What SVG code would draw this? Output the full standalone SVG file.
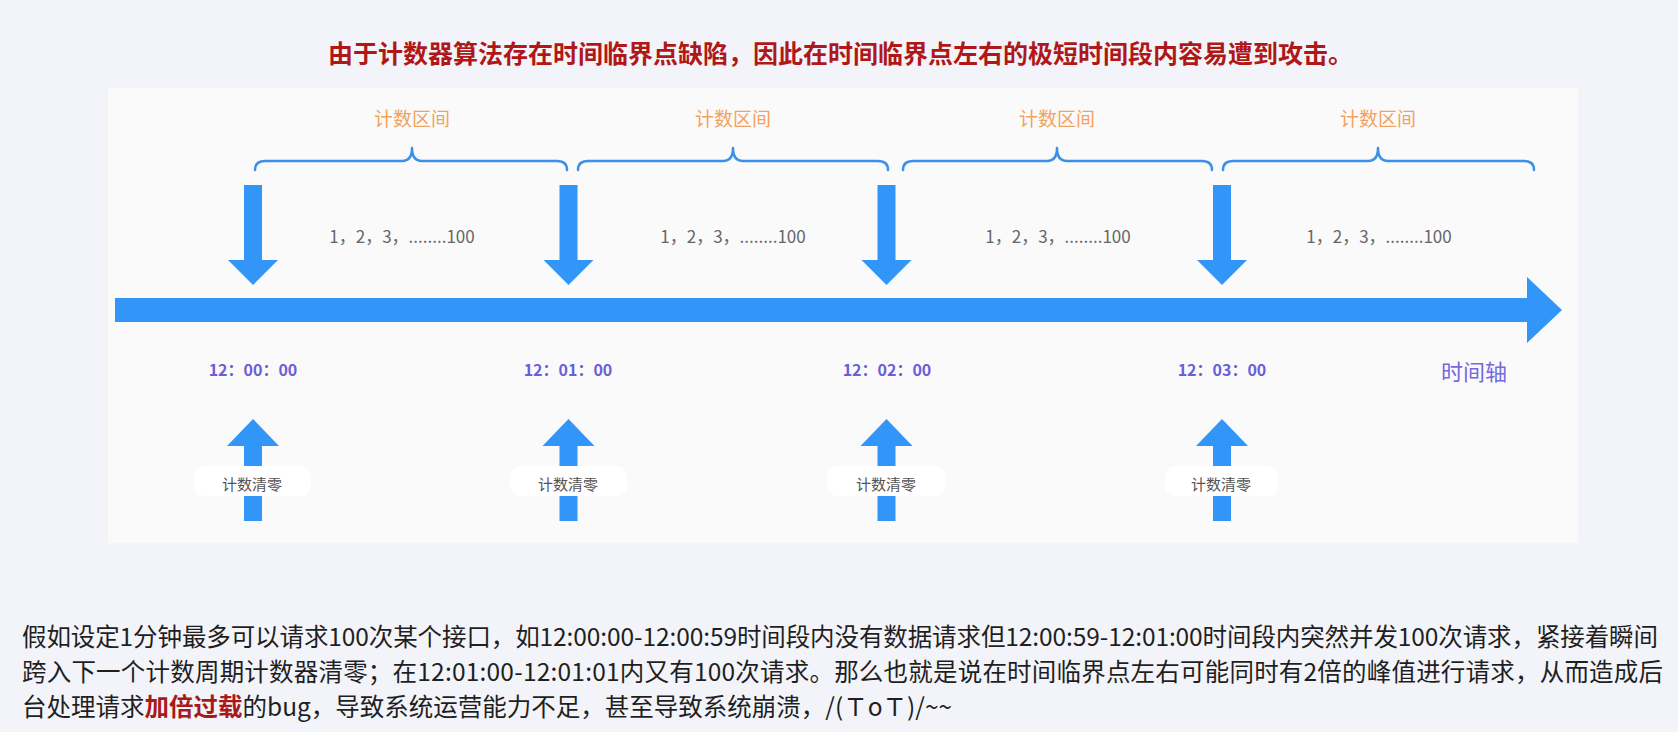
<svg xmlns="http://www.w3.org/2000/svg" xmlns:xlink="http://www.w3.org/1999/xlink" width="1678" height="732" viewBox="0 0 1678 732">
<style>
.cjk{font-family:"Noto Sans CJK SC","Noto Sans",sans-serif}
.title{font-size:25px;font-weight:700;fill:#b01818}
.body{font-size:24.5px;fill:#1f1f1f}
.em{font-weight:700;fill:#a8191b}
.range{font-size:19px;fill:#f3a25c;text-anchor:middle}
.count{font-size:17px;fill:#666;text-anchor:middle}
.time{font-size:16px;font-weight:600;fill:#6a5fd6;text-anchor:middle}
.axis{font-size:22px;fill:#7568e0;text-anchor:middle}
.reset{font-size:15px;fill:#555;text-anchor:middle}
.arrow{fill:#3196f8}
.brace{fill:none;stroke:#3d90e8;stroke-width:2.5;stroke-linecap:round;stroke-linejoin:round}
.box{fill:#ffffff}
</style>
<defs>
<path id="down" d="M-9,185 H9 V260 H25 L0,285 L-25,260 H-9 Z"/>
<path id="up" d="M0,419 L26,446 H9 V521 H-9 V446 H-26 Z"/>
</defs>
<rect width="1678" height="732" fill="#f3f4f9"/>
<g id="title"><text class="cjk title" x="328" y="62.5" textLength="1025" lengthAdjust="spacing">由于计数器算法存在时间临界点缺陷，因此在时间临界点左右的极短时间段内容易遭到攻击。</text></g>
<g id="panel"><rect x="108" y="88" width="1470" height="455" fill="#fafafb"/></g>
<g id="timeline">
<path class="arrow" d="M115,298 H1527 V277 L1562,310 L1527,343 V322 H115 Z"/>
<text class="cjk axis" x="1474" y="380">时间轴</text>
</g>
<g id="intervals">
<g id="interval-1">
<path class="brace" d="M255,170 Q255,161 265,161 L402,161 Q412,161 412,148 Q412,161 422,161 L557,161 Q567,161 567,170"/>
<text class="cjk range" x="412" y="126">计数区间</text>
<text class="cjk count" x="402" y="243">1，2，3，........100</text>
</g>
<g id="interval-2">
<path class="brace" d="M578,170 Q578,161 588,161 L723,161 Q733,161 733,148 Q733,161 743,161 L878,161 Q888,161 888,170"/>
<text class="cjk range" x="733" y="126">计数区间</text>
<text class="cjk count" x="733" y="243">1，2，3，........100</text>
</g>
<g id="interval-3">
<path class="brace" d="M903,170 Q903,161 913,161 L1047,161 Q1057,161 1057,148 Q1057,161 1067,161 L1202,161 Q1212,161 1212,170"/>
<text class="cjk range" x="1057" y="126">计数区间</text>
<text class="cjk count" x="1058" y="243">1，2，3，........100</text>
</g>
<g id="interval-4">
<path class="brace" d="M1223,170 Q1223,161 1233,161 L1368,161 Q1378,161 1378,148 Q1378,161 1388,161 L1524,161 Q1534,161 1534,170"/>
<text class="cjk range" x="1378" y="126">计数区间</text>
<text class="cjk count" x="1379" y="243">1，2，3，........100</text>
</g>
</g>
<g id="connectors">
<use href="#down" class="arrow" transform="translate(253,0)"/>
<use href="#down" class="arrow" transform="translate(568.5,0)"/>
<use href="#down" class="arrow" transform="translate(886.5,0)"/>
<use href="#down" class="arrow" transform="translate(1222,0)"/>
<use href="#up" class="arrow" transform="translate(253,0)"/>
<use href="#up" class="arrow" transform="translate(568.5,0)"/>
<use href="#up" class="arrow" transform="translate(886.5,0)"/>
<use href="#up" class="arrow" transform="translate(1222,0)"/>
</g>
<g id="tick-1">
<text class="cjk time" x="253" y="376">12：00：00</text>
<rect class="box" x="194" y="466" width="117" height="30" rx="10"/>
<text class="cjk reset" x="252" y="489.5">计数清零</text>
</g>
<g id="tick-2">
<text class="cjk time" x="568" y="376">12：01：00</text>
<rect class="box" x="510" y="466" width="117" height="30" rx="10"/>
<text class="cjk reset" x="568" y="489.5">计数清零</text>
</g>
<g id="tick-3">
<text class="cjk time" x="887" y="376">12：02：00</text>
<rect class="box" x="827" y="466" width="118" height="30" rx="10"/>
<text class="cjk reset" x="886" y="489.5">计数清零</text>
</g>
<g id="tick-4">
<text class="cjk time" x="1222" y="376">12：03：00</text>
<rect class="box" x="1165" y="466" width="113" height="30" rx="10"/>
<text class="cjk reset" x="1221" y="489.5">计数清零</text>
</g>
<g id="description">
<text class="cjk body" x="22" y="646" textLength="1636" lengthAdjust="spacing">假如设定1分钟最多可以请求100次某个接口，如12:00:00-12:00:59时间段内没有数据请求但12:00:59-12:01:00时间段内突然并发100次请求，紧接着瞬间</text>
<text class="cjk body" x="22" y="681" textLength="1641" lengthAdjust="spacing">跨入下一个计数周期计数器清零；在12:01:00-12:01:01内又有100次请求。那么也就是说在时间临界点左右可能同时有2倍的峰值进行请求，从而造成后</text>
<text class="cjk body" x="22" y="716">台处理请求<tspan class="em">加倍过载</tspan>的bug，导致系统运营能力不足，甚至导致系统崩溃，/(ＴoＴ)/~~</text>
</g>
</svg>
